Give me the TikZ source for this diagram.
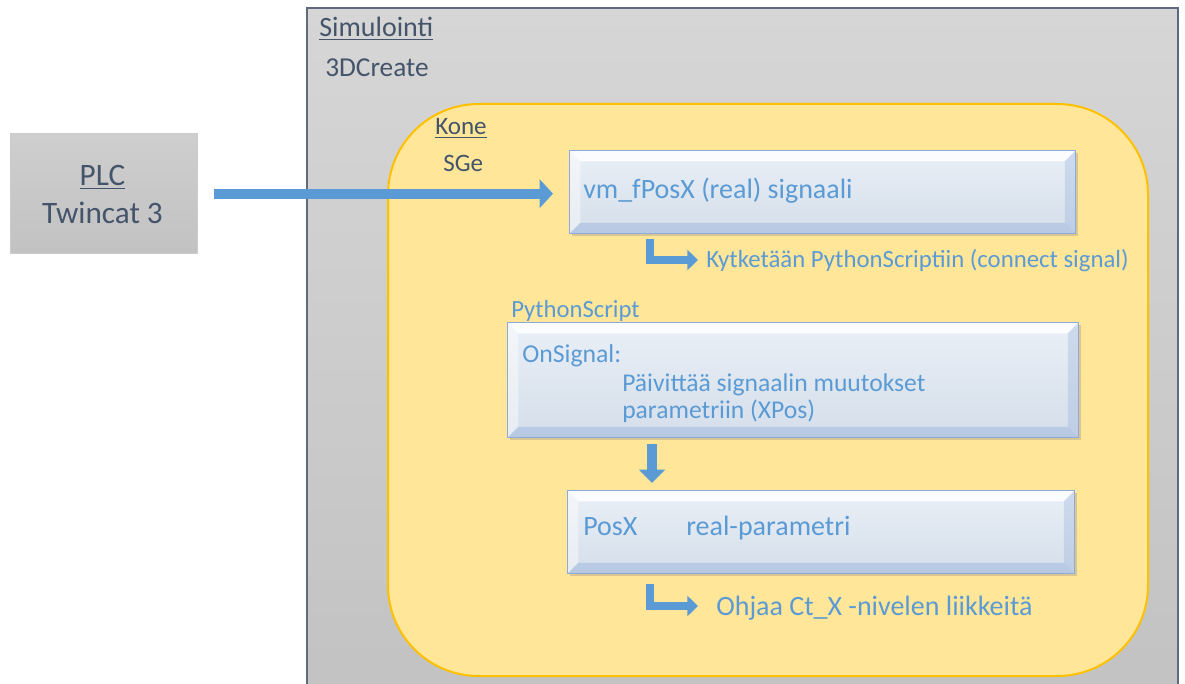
\documentclass[tikz,border=0pt]{standalone}
\usepackage{fontspec}
\setmainfont{Carlito}
\usetikzlibrary{arrows.meta,calc,shadows}
\definecolor{dark}{HTML}{44546A}
\definecolor{office}{HTML}{5B9BD5}
\definecolor{simtop}{HTML}{D6D6D6}
\definecolor{simbot}{HTML}{C2C2C2}
\definecolor{simborder}{HTML}{5E6B7E}
\definecolor{konefill}{HTML}{FFE699}
\definecolor{koneborder}{HTML}{FFC000}
\definecolor{boxfill}{HTML}{DBE5F1}
\definecolor{boxborder}{HTML}{8EAADB}
\tikzset{
  darktext/.style={text=dark, inner sep=0pt, anchor=base west},
  bluetext/.style={text=office, inner sep=0pt, anchor=base west},
  bevelbox/.style={draw=boxborder, line width=0.9pt, top color=boxfill!60!white, bottom color=boxfill!97!black,
    anchor=north west, inner sep=0pt,
    drop shadow={opacity=0.3, shadow xshift=1.5pt, shadow yshift=-1.5pt},
    path picture={
      \coordinate (@nw) at (path picture bounding box.north west);
      \coordinate (@se) at (path picture bounding box.south east);
      \coordinate (@ne) at (path picture bounding box.north east);
      \coordinate (@sw) at (path picture bounding box.south west);
      \fill[white, opacity=0.85] (@nw) -- (@ne) -- ($(@ne)+(-8pt,-8pt)$) -- ($(@nw)+(8pt,-8pt)$) -- cycle;
      \fill[white, opacity=0.45] (@nw) -- (@sw) -- ($(@sw)+(8pt,8pt)$) -- ($(@nw)+(8pt,-8pt)$) -- cycle;
      \fill[boxborder, opacity=0.3] (@ne) -- (@se) -- ($(@se)+(-8pt,8pt)$) -- ($(@ne)+(-8pt,-8pt)$) -- cycle;
      \fill[boxborder, opacity=0.4] (@sw) -- (@se) -- ($(@se)+(-8pt,8pt)$) -- ($(@sw)+(8pt,8pt)$) -- cycle;
    }},
  bigarrow/.style={draw=office, line width=7.5pt, -{Triangle[length=10pt,width=21pt]}},
  elbowarrow/.style={draw=office, line width=6pt, -{Triangle[length=8pt,width=15pt]}},
}
\begin{document}
\begin{tikzpicture}[x=0.75pt,y=-0.75pt]
\useasboundingbox (0,0) rectangle (1185,684);
\clip (0,0) rectangle (1185,684);
% Simulointi frame
\path[draw=simborder, line width=1pt, top color=simtop, bottom color=simbot] (307,8) rectangle (1178,700);
\node[darktext, font=\fontsize{21pt}{24pt}\selectfont] (sim) at (319,37) {\underline{Simulointi}};
\node[darktext, font=\fontsize{20.5pt}{24pt}\selectfont] (tdc) at (325,77) {3DCreate};
% Kone
\path[draw=koneborder, line width=1.5pt, fill=konefill, rounded corners=68pt] (388,104) rectangle (1148,676);
\node[darktext, font=\fontsize{18.8pt}{22pt}\selectfont] (kone) at (435,135) {\underline{Kone}};
\node[darktext, font=\fontsize{18.8pt}{22pt}\selectfont] (sge) at (443,172) {SGe};
% PLC
\node[draw=gray!40, line width=1pt, top color=simbot!80!white, bottom color=simbot, anchor=north west, minimum width=140.25pt, minimum height=90pt, inner sep=0pt] (plc) at (10,133) {};
\node[text=dark, inner sep=0pt, anchor=base, font=\fontsize{23.4pt}{27pt}\selectfont] (plct) at (102.5,186) {\underline{PLC}};
\node[text=dark, inner sep=0pt, anchor=base, font=\fontsize{23.4pt}{27pt}\selectfont] (twc) at (102.5,224) {Twincat 3};
% Boxes
\node[bevelbox, minimum width=379.5pt, minimum height=62.25pt] (box1) at (569,150) {};
\node[bluetext, font=\fontsize{21pt}{24pt}\selectfont] (t1) at (583,199) {vm\_fPosX (real) signaali};
\node[bluetext, font=\fontsize{18.6pt}{22pt}\selectfont] (kyt) at (706,268) {Kytketään PythonScriptiin (connect signal)};
\node[bluetext, font=\fontsize{18.5pt}{22pt}\selectfont] (ps) at (511,318) {PythonScript};
\node[bevelbox, minimum width=428.25pt, minimum height=86.25pt] (box2) at (507,322) {};
\node[bluetext, font=\fontsize{19.3pt}{22pt}\selectfont] (ons) at (522,362) {OnSignal:};
\node[bluetext, font=\fontsize{19.2pt}{22pt}\selectfont] (pv1) at (622,391) {Päivittää signaalin muutokset};
\node[bluetext, font=\fontsize{19.2pt}{22pt}\selectfont] (pv2) at (622,418) {parametriin (XPos)};
\node[bevelbox, minimum width=380.25pt, minimum height=62.25pt] (box3) at (567,490) {};
\node[bluetext, font=\fontsize{21pt}{24pt}\selectfont] (posx) at (583,535) {PosX};
\node[bluetext, font=\fontsize{21pt}{24pt}\selectfont] (rp) at (686,535) {real-parametri};
\node[bluetext, font=\fontsize{21pt}{24pt}\selectfont] (ohj) at (716,615) {Ohjaa Ct\_X -nivelen liikkeitä};
% Arrows
\path (plc.east -| box1.west) coordinate (a1);
\draw[bigarrow] ([shift={(16,0)}]plc.east) -- ([shift={(-16,0)}]a1);
\draw[elbowarrow] ([shift={(81,5)}]box1.south west) |- ([shift={(-8,-8)}]kyt.base west);
\draw[draw=office, line width=7.5pt, -{Triangle[length=10pt,width=19pt]}] ([shift={(145,6)}]box2.south west) -- ([shift={(85,-7)}]box3.north west);
\draw[elbowarrow] ([shift={(83,10)}]box3.south west) |- ([shift={(-18,-9)}]ohj.base west);
\end{tikzpicture}
\end{document}
